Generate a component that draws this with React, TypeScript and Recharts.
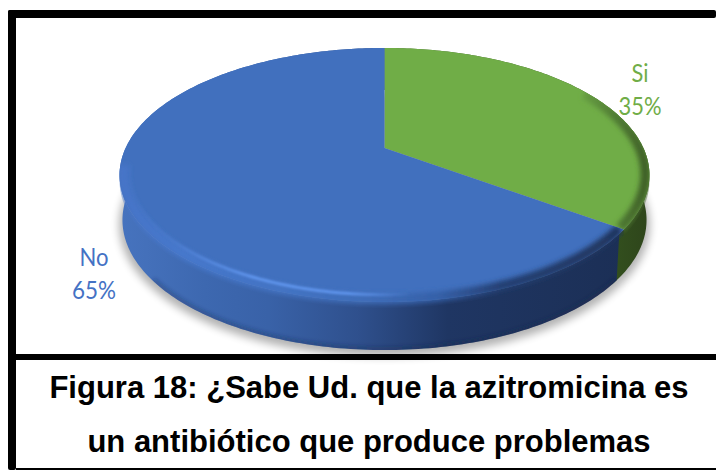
import React from "react";
import { PieChart, Pie } from "recharts";

const categories = ["Si", "No"];
const values = [35, 65];
const faceColors = ["#70AD47", "#4170BE"];
const labelColors = ["#70AD47", "#4472C4"];
const captionLines = [
  "Figura 18: ¿Sabe Ud. que la azitromicina es",
  "un antibiótico que produce problemas",
];
const wallStops = [
  [["0", "#5C8A3C"], ["0.8", "#3A5A24"], ["0.93", "#33501E"], ["1", "#2E451B"]],
  [["0", "#4673BE"], ["0.05", "#4470BA"], ["0.16", "#3D68B0"], ["0.28", "#3962A8"], ["0.45", "#2F508D"], ["0.62", "#1F3663"], ["1", "#1B2E54"]],
];
const rimStops = [
  [["0", "#70AD47"], ["0.86", "#6BA545"], ["0.94", "#4F7A33"], ["1", "#3E5E26"]],
  [["0", "#4675C8"], ["0.12", "#4678CC"], ["0.3", "#4474C4"], ["0.47", "#3F6DB8"], ["0.6", "#3560A8"], ["0.72", "#243F72"], ["1", "#1E3359"]],
];
const glowStops = [
  [["0", "#6FA84A", "0"], ["1", "#6FA84A", "0"]],
  [["0", "#5F94EC", "0"], ["0.1", "#5F94EC", "0.2"], ["0.25", "#5F94EC", "1"], ["0.43", "#5F94EC", "1"], ["0.55", "#5F94EC", "0"], ["1", "#5F94EC", "0"]],
];
// Clockwise degrees from the top where the bevel of each slice begins to show.
const rimEnds = [60, 262];
// Label radial factors, drop applied to the labels, and squeezed widths of the label text.
const labelRadius = [1.24, 1.123];
const labelDrop = [3, 57];
const labelWidth = [[17, 43], [29, 44]];
// Angular nudge of the wall seam between the slices.
const SEAM = 2;
// Clockwise degrees where the dark foot of the wall fades out on the left.
const EDGE_END = 232;

const data = categories.map((name, i) => ({ name, value: values[i], fill: faceColors[i] }));

const TILT = 0.2126;
const Y_SCALE = 121.3 / 258.9;
const FACE_MID = 175;
const BOTTOM_SHIFT = 45;
const BOTTOM_X = 0.989;
const BOTTOM_Y = 1.024;
const LEFT = 120;
const RIGHT = 649;

type P = [number, number];
const project = (cx: number, cy: number, R: number, deg: number, r = 1): P => {
  const a = (deg * Math.PI) / 180;
  const u = Math.cos(a) * r;
  const v = Math.sin(a) * r;
  const d = 1 + TILT * v;
  return [cx + (R * u) / d, cy - (R * Y_SCALE * v) / d];
};
const arc = (cx: number, cy: number, R: number, from: number, to: number, r = 1, dy = 0): P[] => {
  const n = Math.max(2, Math.ceil(Math.abs(from - to)));
  const out: P[] = [];
  for (let i = 0; i <= n; i++) {
    const [x, y] = project(cx, cy, R, from + ((to - from) * i) / n, r);
    out.push([x, y + dy]);
  }
  return out;
};
const lower = (cx: number, pts: P[], dy = 0): P[] =>
  pts.map(([x, y]) => [cx + (x - cx) * BOTTOM_X, FACE_MID + (y - FACE_MID) * BOTTOM_Y + BOTTOM_SHIFT + dy]);
const toPath = (pts: P[], close = false) =>
  pts.map((p, i) => `${i ? "L" : "M"}${p[0].toFixed(2)},${p[1].toFixed(2)}`).join("") + (close ? "Z" : "");

const Grad = ({ id, stops }: { id: string; stops: string[][] }) => (
  <linearGradient id={id} gradientUnits="userSpaceOnUse" x1={LEFT} x2={RIGHT} y1={0} y2={0}>
    {stops.map(([o, c, a]) => (
      <stop key={o} offset={o} stopColor={c} stopOpacity={a === undefined ? 1 : Number(a)} />
    ))}
  </linearGradient>
);

const Blur = ({ id, d }: { id: string; d: number }) => (
  <filter id={id} filterUnits="userSpaceOnUse" x="0" y="0" width="716" height="470">
    <feGaussianBlur stdDeviation={d} />
  </filter>
);

const ShadowShape = (p: any) => {
  const pts = lower(p.cx, arc(p.cx, p.cy, p.outerRadius, p.startAngle, p.endAngle, 1.012), 4);
  return (
    <g>
      <defs>
        <Blur id={`sh${p.index}`} d={4.5} />
      </defs>
      <path d={toPath([...pts, [p.cx, p.cy + 50]], true)} fill="#000" opacity={0.3} filter={`url(#sh${p.index})`} />
    </g>
  );
};

const WallShape = (p: any) => {
  const { cx, cy, outerRadius: R, index } = p;
  const s = index === 0 ? p.startAngle : p.startAngle - SEAM;
  const e = index === 0 ? p.endAngle - SEAM * 2 : p.endAngle;
  const top = arc(cx, cy, R, s, e);
  const bottomPts = lower(cx, arc(cx, cy, R, e, s));
  const edge = lower(cx, arc(cx, cy, R, s, 90 - EDGE_END, 0.995));
  const wall = toPath([...top, ...bottomPts], true);
  return (
    <g>
      <defs>
        <Grad id={`wall${index}`} stops={wallStops[index]} />
        <Blur id={`wb${index}`} d={2} />
        <clipPath id={`wc${index}`}>
          <path d={wall} />
        </clipPath>
      </defs>
      <path d={wall} fill={`url(#wall${index})`} />
      {index === 1 && (
        <g clipPath={`url(#wc${index})`}>
          <path d={toPath(edge)} fill="none" stroke="#16264A" strokeOpacity={0.35} strokeWidth={4} filter={`url(#wb${index})`} />
        </g>
      )}
    </g>
  );
};

const TopShape = (p: any) => {
  const { cx, cy, outerRadius: R, startAngle, endAngle, fill, index } = p;
  const outline = arc(cx, cy, R, startAngle, endAngle);
  const rimArc = (r: number) =>
    index === 0
      ? arc(cx, cy, R, 90 - rimEnds[0], endAngle, r)
      : arc(cx, cy, R, startAngle, 90 - rimEnds[1], r);
  const clipId = `clip${index}`;
  return (
    <g>
      <defs>
        <Grad id={`rim${index}`} stops={rimStops[index]} />
        <Grad id={`glow${index}`} stops={glowStops[index]} />
        <Blur id={`bl${index}`} d={2.5} />
        <Blur id={`gl${index}`} d={1.2} />
        <clipPath id={clipId}>
          <path d={toPath([...outline, ...arc(cx, cy, R, endAngle, startAngle, 1, 6)], true)} />
          <path d={toPath([[cx, cy], ...outline], true)} />
        </clipPath>
      </defs>
      <path d={toPath([[cx, cy], ...outline], true)} fill={fill} />
      <g clipPath={`url(#${clipId})`}>
        <path d={toPath(rimArc(0.985))} fill="none" stroke={`url(#rim${index})`} strokeWidth={10} filter={`url(#bl${index})`} />
        <path d={toPath(rimArc(0.962))} fill="none" stroke={`url(#glow${index})`} strokeWidth={3} filter={`url(#gl${index})`} />
      </g>
    </g>
  );
};

const renderLabel = (p: any) => {
  const i = p.index;
  const [x, y] = project(p.cx, p.cy, p.outerRadius, p.midAngle, labelRadius[i]);
  const yy = y + labelDrop[i];
  const common = {
    x,
    textAnchor: "middle" as const,
    fill: labelColors[i],
    fontFamily: "Lato, sans-serif",
    fontWeight: 400,
    fontSize: 25,
    lengthAdjust: "spacingAndGlyphs",
  };
  return (
    <g>
      <text {...common} y={yy - 8} textLength={labelWidth[i][0]}>{p.name}</text>
      <text {...common} y={yy + 25} textLength={labelWidth[i][1]}>{`${Math.round(p.percent * 100)}%`}</text>
    </g>
  );
};

const pieProps = {
  data,
  dataKey: "value",
  nameKey: "name",
  cx: 384.5,
  cy: 148,
  innerRadius: 0,
  outerRadius: 258.9,
  startAngle: 90,
  endAngle: -270,
  stroke: "none",
  isAnimationActive: false,
};

const bar = (left: number, top: number, width: number, height: number, radius = 0) => (
  <div
    style={{ position: "absolute", left, top, width, height, background: "#000", borderRadius: radius, zIndex: 2 }}
  />
);

export default function App() {
  return (
    <div style={{ position: "fixed", left: 0, top: 0, width: 716, height: 470, background: "#fff", overflow: "hidden" }}>
      <div style={{ position: "absolute", left: 0, top: 0, zIndex: 1 }}>
        <PieChart width={716} height={470} margin={{ top: 0, right: 0, bottom: 0, left: 0 }}>
          <Pie {...pieProps} shape={ShadowShape} />
          <Pie {...pieProps} shape={WallShape} />
          <Pie {...pieProps} shape={TopShape} label={renderLabel} labelLine={false} />
        </PieChart>
      </div>
      {bar(8, 10, 708, 8, 2)}
      {bar(8, 10, 8, 460, 2)}
      {bar(16, 354, 700, 6)}
      {bar(16, 468, 700, 2)}
      {captionLines.map((line, i) => (
        <div
          key={line}
          style={{
            position: "absolute",
            left: 16,
            width: 706,
            top: i === 0 ? 372 : 426,
            textAlign: "center",
            fontFamily: "'Liberation Sans', Arial, sans-serif",
            fontWeight: 700,
            fontSize: 31,
            lineHeight: "32px",
            color: "#000",
            whiteSpace: "nowrap",
            zIndex: 3,
          }}
        >
          {line}
        </div>
      ))}
    </div>
  );
}
